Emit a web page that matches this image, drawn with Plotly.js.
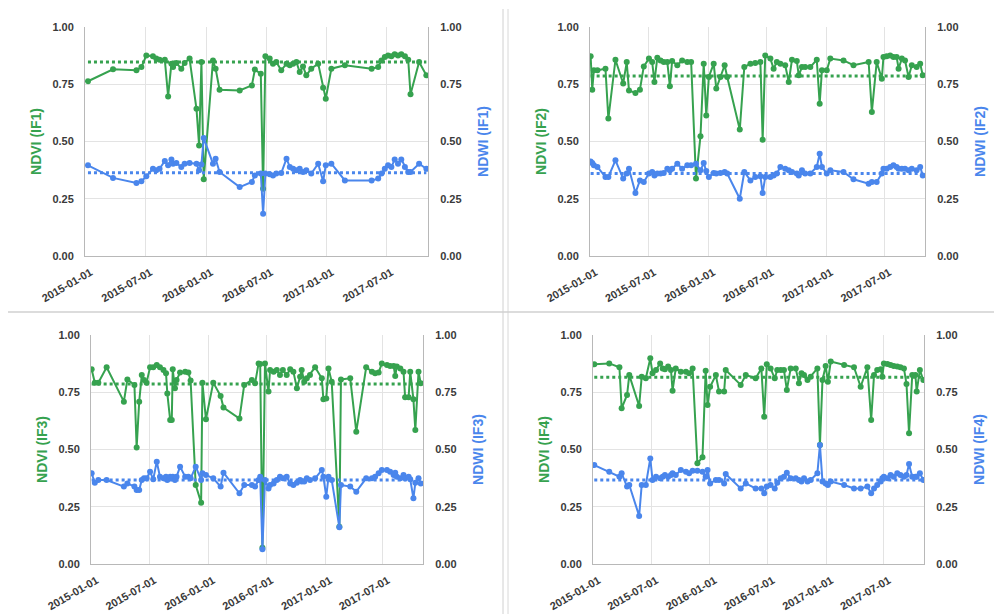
<!DOCTYPE html>
<html>
<head>
<meta charset="utf-8">
<script src="https://cdn.plot.ly/plotly-3.0.1.min.js"></script>
<style>html,body{margin:0;padding:0;background:#fff;}#chart{width:994px;height:614px;}</style>
</head>
<body>
<div id="chart"></div>
<script>
// ---------- DATA ----------
const panelNames = ["IF1", "IF2", "IF3", "IF4"];

const dates1 = ["2015-01-08","2015-03-25","2015-06-04","2015-06-19","2015-07-04","2015-07-24","2015-08-03","2015-08-13","2015-08-29","2015-09-08",
"2015-09-18","2015-09-23","2015-10-03","2015-10-18","2015-10-28","2015-11-12","2015-12-03","2015-12-11","2015-12-18","2015-12-25",
"2016-01-22","2016-01-30","2016-02-11","2016-04-12","2016-05-19","2016-05-28","2016-06-15","2016-06-22","2016-06-29","2016-07-12",
"2016-07-22","2016-08-01","2016-08-16","2016-09-01","2016-09-11","2016-09-21","2016-10-01","2016-10-11","2016-10-21","2016-10-31",
"2016-11-15","2016-12-06","2016-12-21","2016-12-29","2017-01-15","2017-02-25","2017-05-17","2017-06-06","2017-06-16","2017-06-26",
"2017-07-06","2017-07-16","2017-07-26","2017-08-05","2017-08-15","2017-08-26","2017-09-05","2017-09-12","2017-10-08","2017-10-30"];
const ndvi1 = [0.763,0.815,0.811,0.825,0.876,0.872,0.862,0.857,0.857,0.697,
0.840,0.825,0.843,0.818,0.843,0.862,0.643,0.483,0.847,0.335,
0.854,0.818,0.726,0.723,0.745,0.814,0.796,0.294,0.872,0.862,
0.840,0.847,0.811,0.840,0.833,0.840,0.847,0.803,0.828,0.789,
0.818,0.840,0.735,0.687,0.818,0.833,0.818,0.825,0.854,0.869,
0.876,0.872,0.881,0.876,0.881,0.872,0.857,0.706,0.847,0.789];
const ndwi1 = [0.396,0.341,0.319,0.326,0.348,0.381,0.374,0.381,0.415,0.396,
0.421,0.403,0.406,0.389,0.403,0.406,0.403,0.374,0.400,0.515,
0.403,0.425,0.367,0.301,0.323,0.352,0.360,0.185,0.360,0.357,
0.352,0.360,0.362,0.425,0.389,0.381,0.374,0.381,0.367,0.374,
0.360,0.403,0.326,0.396,0.403,0.330,0.330,0.338,0.360,0.381,
0.396,0.389,0.421,0.403,0.421,0.389,0.367,0.367,0.403,0.381];

const dates2 = ["2015-01-01","2015-01-06","2015-01-11","2015-01-22","2015-02-16","2015-02-25","2015-03-19","2015-04-12","2015-04-23","2015-04-30",
"2015-05-20","2015-06-03","2015-06-15","2015-07-01","2015-07-11","2015-07-18","2015-07-27","2015-08-06","2015-08-16","2015-08-27",
"2015-09-04","2015-09-11","2015-09-27","2015-10-12","2015-10-28","2015-11-09","2015-11-24","2015-12-08","2015-12-18","2015-12-26",
"2016-01-03","2016-01-18","2016-01-26","2016-02-08","2016-02-21","2016-02-29","2016-04-08","2016-04-22","2016-05-11","2016-05-26",
"2016-06-11","2016-06-18","2016-06-26","2016-07-12","2016-07-22","2016-08-01","2016-08-12","2016-08-27","2016-09-07","2016-09-17",
"2016-10-02","2016-10-08","2016-10-18","2016-10-28","2016-11-13","2016-12-03","2016-12-12","2016-12-19","2017-01-03","2017-01-14",
"2017-02-24","2017-03-27","2017-05-13","2017-05-23","2017-06-07","2017-06-23","2017-06-28","2017-07-08","2017-07-19","2017-07-29",
"2017-08-08","2017-08-14","2017-08-24","2017-09-03","2017-09-14","2017-09-24","2017-10-09","2017-10-20","2017-10-28"];
const ndvi2 = [0.872,0.726,0.811,0.811,0.818,0.600,0.857,0.753,0.847,0.723,
0.712,0.726,0.828,0.862,0.847,0.760,0.866,0.854,0.847,0.847,
0.741,0.852,0.833,0.854,0.847,0.847,0.338,0.523,0.840,0.614,
0.782,0.840,0.731,0.782,0.833,0.782,0.552,0.825,0.840,0.843,
0.847,0.508,0.876,0.862,0.818,0.847,0.840,0.833,0.760,0.857,
0.852,0.789,0.825,0.825,0.825,0.857,0.665,0.811,0.811,0.862,
0.854,0.833,0.847,0.629,0.847,0.774,0.869,0.872,0.876,0.869,
0.869,0.818,0.862,0.854,0.782,0.833,0.825,0.840,0.789];
const ndwi2 = [0.413,0.406,0.396,0.389,0.345,0.345,0.418,0.338,0.360,0.381,
0.275,0.330,0.323,0.360,0.367,0.352,0.360,0.360,0.362,0.381,
0.374,0.381,0.403,0.381,0.396,0.396,0.403,0.374,0.406,0.371,
0.345,0.362,0.360,0.362,0.367,0.360,0.250,0.367,0.330,0.345,
0.348,0.275,0.345,0.345,0.352,0.360,0.389,0.381,0.374,0.367,
0.360,0.352,0.374,0.360,0.360,0.389,0.447,0.389,0.360,0.374,
0.367,0.335,0.316,0.323,0.323,0.360,0.381,0.381,0.389,0.396,
0.389,0.381,0.381,0.381,0.374,0.381,0.374,0.389,0.352];

const dates3 = ["2015-01-01","2015-01-11","2015-01-22","2015-02-17","2015-04-12","2015-04-23","2015-05-15","2015-05-22","2015-05-30","2015-06-07",
"2015-06-14","2015-06-22","2015-07-03","2015-07-13","2015-07-24","2015-08-03","2015-08-14","2015-08-22","2015-08-26","2015-09-04",
"2015-09-09","2015-09-12","2015-09-19","2015-09-24","2015-10-05","2015-10-21","2015-10-31","2015-11-07","2015-11-23","2015-12-10",
"2015-12-14","2015-12-25","2016-01-17","2016-02-09","2016-02-18","2016-04-08","2016-04-23","2016-05-17","2016-05-27","2016-06-07",
"2016-06-12","2016-06-19","2016-06-27","2016-07-08","2016-07-13","2016-07-24","2016-08-03","2016-08-13","2016-08-22","2016-09-03",
"2016-09-14","2016-09-24","2016-10-05","2016-10-15","2016-10-20","2016-10-28","2016-11-05","2016-11-15","2016-12-01","2016-12-22",
"2016-12-27","2017-01-05","2017-01-12","2017-01-22","2017-02-15","2017-02-20","2017-03-21","2017-04-09","2017-05-10","2017-05-28",
"2017-06-07","2017-06-18","2017-06-28","2017-07-14","2017-07-24","2017-08-04","2017-08-09","2017-08-14","2017-08-25","2017-09-04",
"2017-09-09","2017-09-20","2017-09-25","2017-10-05","2017-10-11","2017-10-21","2017-10-28"];
const ndvi3 = [0.850,0.792,0.792,0.859,0.709,0.806,0.782,0.509,0.709,0.825,
0.803,0.792,0.859,0.859,0.869,0.859,0.847,0.833,0.745,0.629,
0.629,0.850,0.767,0.803,0.836,0.840,0.836,0.801,0.345,0.268,
0.792,0.632,0.792,0.734,0.683,0.635,0.782,0.803,0.789,0.876,
0.873,0.071,0.876,0.753,0.847,0.840,0.847,0.825,0.847,0.825,
0.850,0.840,0.767,0.818,0.847,0.796,0.811,0.825,0.859,0.811,
0.719,0.723,0.854,0.796,0.163,0.806,0.811,0.578,0.859,0.840,
0.833,0.836,0.876,0.869,0.865,0.865,0.821,0.862,0.854,0.840,
0.728,0.728,0.840,0.719,0.585,0.840,0.789];
const ndwi3 = [0.396,0.355,0.367,0.367,0.338,0.352,0.338,0.323,0.323,0.367,
0.374,0.374,0.403,0.370,0.447,0.381,0.374,0.381,0.367,0.381,
0.374,0.381,0.367,0.381,0.425,0.381,0.381,0.374,0.425,0.367,
0.396,0.389,0.374,0.338,0.399,0.309,0.345,0.345,0.338,0.367,
0.381,0.064,0.367,0.330,0.345,0.352,0.367,0.381,0.374,0.381,
0.352,0.345,0.355,0.367,0.360,0.360,0.374,0.367,0.374,0.410,
0.381,0.294,0.381,0.367,0.160,0.345,0.338,0.316,0.374,0.374,
0.381,0.396,0.410,0.410,0.403,0.389,0.399,0.381,0.374,0.389,
0.374,0.381,0.370,0.287,0.355,0.374,0.352];

const dates4 = ["2015-01-03","2015-02-19","2015-03-23","2015-03-30","2015-04-16","2015-04-23","2015-05-24","2015-06-01","2015-06-14","2015-06-28",
"2015-07-05","2015-07-16","2015-07-29","2015-08-06","2015-08-13","2015-08-23","2015-09-01","2015-09-06","2015-09-16","2015-10-02",
"2015-10-18","2015-10-28","2015-11-08","2015-11-23","2015-12-09","2015-12-19","2015-12-25","2016-01-02","2016-01-20","2016-01-30",
"2016-02-15","2016-02-20","2016-04-07","2016-04-23","2016-05-24","2016-06-11","2016-06-20","2016-06-28","2016-07-10","2016-07-23",
"2016-07-31","2016-08-11","2016-08-21","2016-08-30","2016-09-11","2016-09-27","2016-10-07","2016-10-15","2016-10-23","2016-11-03",
"2016-11-13","2016-12-04","2016-12-12","2016-12-20","2016-12-30","2017-01-06","2017-01-15","2017-02-26","2017-03-29","2017-04-19",
"2017-05-10","2017-05-22","2017-05-31","2017-06-10","2017-06-21","2017-06-26","2017-07-01","2017-07-12","2017-07-22","2017-08-01",
"2017-08-12","2017-08-22","2017-09-02","2017-09-10","2017-09-18","2017-09-28","2017-10-08","2017-10-12","2017-10-22","2017-11-02"];
const ndvi4 = [0.872,0.876,0.859,0.680,0.738,0.825,0.690,0.818,0.811,0.898,
0.833,0.847,0.876,0.854,0.850,0.862,0.847,0.757,0.854,0.840,
0.840,0.833,0.854,0.440,0.466,0.844,0.694,0.774,0.825,0.753,
0.753,0.847,0.782,0.825,0.811,0.854,0.643,0.872,0.854,0.811,
0.847,0.847,0.847,0.760,0.854,0.854,0.789,0.833,0.825,0.803,
0.818,0.854,0.520,0.803,0.865,0.796,0.884,0.869,0.859,0.774,
0.859,0.629,0.825,0.847,0.850,0.818,0.876,0.873,0.869,0.865,
0.862,0.859,0.854,0.786,0.571,0.825,0.825,0.753,0.847,0.803];
const ndwi4 = [0.432,0.403,0.381,0.396,0.338,0.345,0.210,0.345,0.345,0.461,
0.367,0.381,0.374,0.381,0.389,0.381,0.389,0.396,0.389,0.410,
0.403,0.396,0.407,0.407,0.403,0.381,0.410,0.352,0.367,0.367,
0.352,0.393,0.330,0.352,0.330,0.330,0.309,0.338,0.345,0.330,
0.355,0.374,0.381,0.399,0.374,0.374,0.367,0.360,0.374,0.360,
0.367,0.396,0.520,0.360,0.352,0.345,0.360,0.345,0.330,0.330,
0.338,0.309,0.330,0.345,0.360,0.374,0.381,0.374,0.389,0.381,
0.396,0.389,0.381,0.389,0.437,0.381,0.381,0.381,0.396,0.367];

const meanNdvi = [0.847, 0.786, 0.786, 0.815];
const meanNdwi = [0.364, 0.360, 0.367, 0.367];

const yTickVals = [0, 0.25, 0.5, 0.75, 1.0];
const xTickStart = "2015-01-01";
const xRange = ["2014-12-30", "2017-11-04"];

// ---------- STYLE ----------
const GREEN = "#36a24f";
const BLUE = "#4a86ec";
const GRID = "#e3e3e3";
const AXLINE = "#b8b8b8";
const TICKCOL = "#3a3a3a";
const FONT = "Liberation Sans, Arial, sans-serif";

const allDates = [dates1, dates2, dates3, dates4];
const allNdvi = [ndvi1, ndvi2, ndvi3, ndvi4];
const allNdwi = [ndwi1, ndwi2, ndwi3, ndwi4];

// pixel boxes of each plot area [x0, x1, yTop, yBottom]
const boxes = [[85, 428, 27, 256], [590, 925, 27, 256], [91, 423, 335, 564], [593, 924, 335, 564]];
const W = 994, H = 614;

const traces = [];
const layout = {
  width: W, height: H,
  margin: {l: 0, r: 0, t: 0, b: 0},
  paper_bgcolor: "#fff", plot_bgcolor: "#fff",
  showlegend: false,
  font: {family: FONT, size: 11, color: TICKCOL, weight: "bold"},
  shapes: [
    {type: "line", xref: "paper", yref: "paper", x0: 503/W, x1: 503/W, y0: 0, y1: 1 - 9/H, line: {color: "#d0d0d0", width: 1}},
    {type: "line", xref: "paper", yref: "paper", x0: 508/W, x1: 508/W, y0: 0, y1: 1 - 9/H, line: {color: "#d8d8d8", width: 1}},
    {type: "line", xref: "paper", yref: "paper", x0: 8/W, x1: 1, y0: 1 - 312/H, y1: 1 - 312/H, line: {color: "#d0d0d0", width: 1.5}}
  ]
};

for (let i = 0; i < 4; i++) {
  const n = i + 1;
  const xa = "x" + (n === 1 ? "" : n);
  const yl = "y" + (n === 1 ? "" : n);
  const yr = "y" + (n + 4);
  const d = allDates[i];
  const b = boxes[i];

  traces.push({x: d, y: allNdvi[i], xaxis: xa, yaxis: yl, type: "scatter", mode: "lines+markers",
    line: {color: GREEN, width: 2}, marker: {color: GREEN, size: 6}});
  traces.push({x: [d[0], d[d.length - 1]], y: [meanNdvi[i], meanNdvi[i]], xaxis: xa, yaxis: yl, type: "scatter", mode: "lines",
    line: {color: GREEN, width: 3, dash: "dot"}});
  traces.push({x: d, y: allNdwi[i], xaxis: xa, yaxis: yr, type: "scatter", mode: "lines+markers",
    line: {color: BLUE, width: 2}, marker: {color: BLUE, size: 6}});
  traces.push({x: [d[0], d[d.length - 1]], y: [meanNdwi[i], meanNdwi[i]], xaxis: xa, yaxis: yr, type: "scatter", mode: "lines",
    line: {color: BLUE, width: 3, dash: "dot"}});

  const xKey = "xaxis" + (n === 1 ? "" : n);
  const ylKey = "yaxis" + (n === 1 ? "" : n);
  const yrKey = "yaxis" + (n + 4);

  layout[xKey] = {
    domain: [b[0] / W, b[1] / W], anchor: yl, type: "date", range: xRange,
    tick0: xTickStart, dtick: "M6", tickformat: "%Y-%m-%d", tickangle: -30,
    showgrid: true, gridcolor: GRID, showline: true, linecolor: AXLINE, mirror: false,
    zeroline: false, ticks: "", ticklabelstandoff: 5, ticklabelshift: 5,
    tickfont: {family: FONT, size: 11, color: TICKCOL, weight: "bold"}
  };
  layout[ylKey] = {
    domain: [1 - b[3] / H, 1 - b[2] / H], anchor: xa, range: [0, 1], tickvals: yTickVals, tickformat: ".2f",
    showgrid: true, gridcolor: GRID, showline: true, linecolor: AXLINE, zeroline: false, ticks: "",
    ticklabelstandoff: 8,
    tickfont: {family: FONT, size: 11, color: TICKCOL, weight: "bold"},
    title: {text: "NDVI (" + panelNames[i] + ")", font: {family: FONT, size: 14, color: GREEN, weight: "bold"}, standoff: 7}
  };
  layout[yrKey] = {
    overlaying: yl, side: "right", anchor: xa, range: [0, 1], tickvals: yTickVals, tickformat: ".2f",
    showgrid: false, showline: true, linecolor: AXLINE, zeroline: false, ticks: "",
    ticklabelstandoff: 9,
    tickfont: {family: FONT, size: 11, color: TICKCOL, weight: "bold"},
    title: {text: "NDWI (" + panelNames[i] + ")", font: {family: FONT, size: 14, color: BLUE, weight: "bold"}, standoff: 17}
  };
}

Plotly.newPlot("chart", traces, layout, {displayModeBar: false, staticPlot: true});
</script>
</body>
</html>
